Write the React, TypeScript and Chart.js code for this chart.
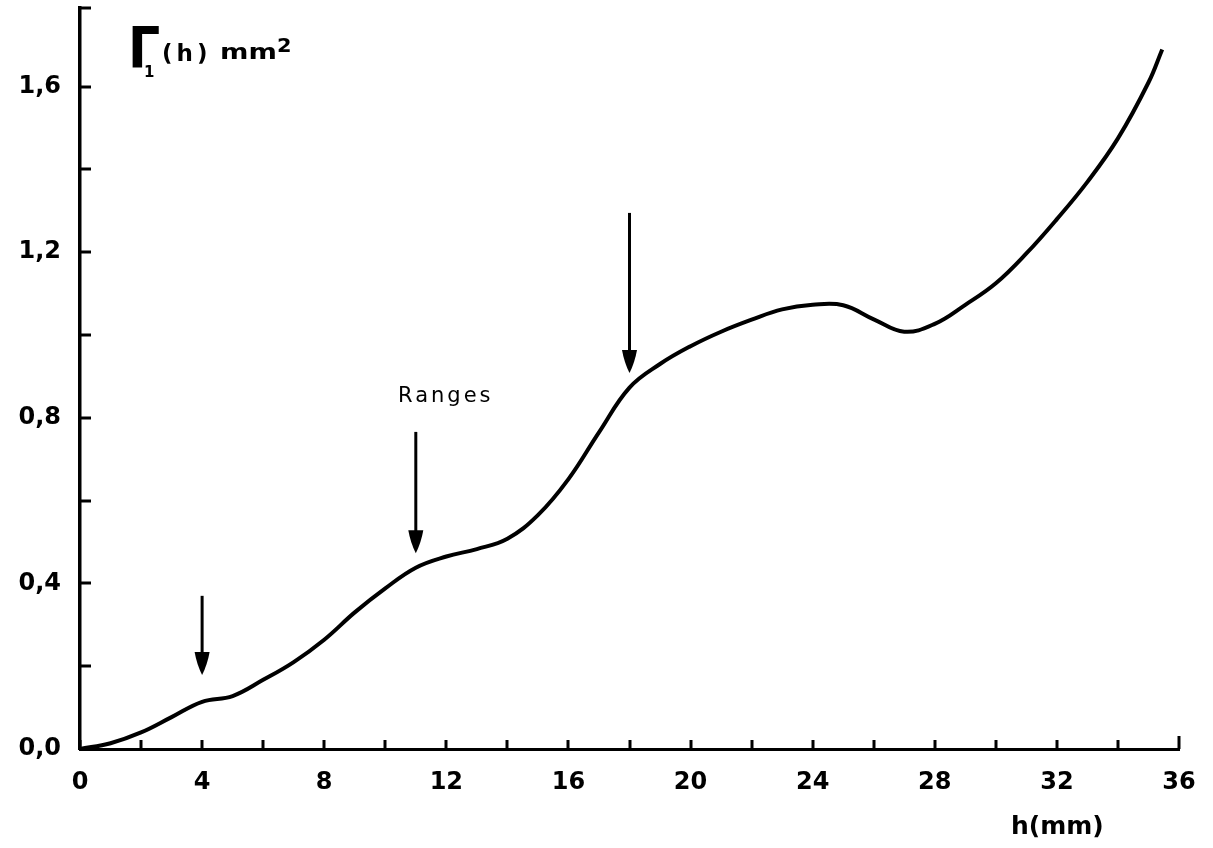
import React, { useEffect, useRef } from "react";
import { Chart, registerables } from "chart.js";

Chart.register(...registerables);

// h (mm) sample positions and Γ1(h) values (mm²)
const hValues = [0, 1, 2, 3, 4, 5, 6, 7, 8, 9, 10, 11, 12, 13, 14, 15, 16, 17, 18, 19, 20, 21, 22, 23, 24, 25, 26, 27, 28, 29, 30, 31, 32, 33, 34, 35, 35.45];
const gammaValues = [0.0, 0.014, 0.04, 0.077, 0.114, 0.128, 0.167, 0.21, 0.264, 0.33, 0.388, 0.438, 0.465, 0.483, 0.508, 0.565, 0.652, 0.765, 0.873, 0.93, 0.973, 1.008, 1.037, 1.062, 1.073, 1.072, 1.038, 1.008, 1.027, 1.073, 1.125, 1.197, 1.28, 1.37, 1.475, 1.61, 1.69];

const xMajorLabels = ["0", "4", "8", "12", "16", "20", "24", "28", "32", "36"];
const yMajorLabels = ["0,0", "0,4", "0,8", "1,2", "1,6"];

// annotation arrows: h position, tail value, tip value
const arrowH = [4, 11, 18];
const arrowTail = [0.37, 0.766, 1.295];
const arrowTip = [0.179, 0.473, 0.908];
const rangesText = "Ranges";
const xAxisTitle = "h(mm)";

const X_MIN = 0;
const X_MAX = 36;
const Y_MIN = 0;
const Y_MAX = 1.79;

function stretchText(ctx: CanvasRenderingContext2D, text: string, x: number, y: number, font: string, sx: number, spacing = 0) {
  ctx.save();
  ctx.translate(x, y);
  ctx.scale(sx, 1);
  ctx.font = font;
  (ctx as any).letterSpacing = spacing + "px";
  ctx.textAlign = "left";
  ctx.textBaseline = "alphabetic";
  ctx.fillText(text, 0, 0);
  ctx.restore();
}

const overlayPlugin = {
  id: "overlay",
  afterDraw(chart: any) {
    const ctx = chart.ctx as CanvasRenderingContext2D;
    const xs = chart.scales.x;
    const ys = chart.scales.y;
    const area = chart.chartArea;
    ctx.save();
    ctx.strokeStyle = "#000";
    ctx.fillStyle = "#000";
    ctx.lineCap = "butt";

    // y tick marks (inside, pointing right)
    ctx.lineWidth = 3;
    const yTickVals = ys.ticks.map((t: any) => t.value).concat([Y_MAX]);
    for (const v of yTickVals) {
      const y = Math.round(ys.getPixelForValue(v));
      ctx.beginPath();
      ctx.moveTo(area.left, y);
      ctx.lineTo(area.left + 11, y);
      ctx.stroke();
    }
    // x tick marks (inside, pointing up)
    for (const t of xs.ticks) {
      const x = Math.round(xs.getPixelForValue(t.value));
      const len = t.value === X_MAX ? 13 : 9;
      ctx.beginPath();
      ctx.moveTo(x, area.bottom);
      ctx.lineTo(x, area.bottom - len);
      ctx.stroke();
    }

    // arrows
    for (let i = 0; i < arrowH.length; i++) {
      const x = xs.getPixelForValue(arrowH[i]);
      const yTop = ys.getPixelForValue(arrowTail[i]);
      const yTip = ys.getPixelForValue(arrowTip[i]);
      const headLen = 23;
      const headHalf = 7.5;
      ctx.lineWidth = 3;
      ctx.beginPath();
      ctx.moveTo(x, yTop);
      ctx.lineTo(x, yTip - headLen + 2);
      ctx.stroke();
      ctx.beginPath();
      ctx.moveTo(x, yTip);
      ctx.quadraticCurveTo(x - headHalf * 0.7, yTip - headLen * 0.45, x - headHalf, yTip - headLen);
      ctx.lineTo(x + headHalf, yTip - headLen);
      ctx.quadraticCurveTo(x + headHalf * 0.7, yTip - headLen * 0.45, x, yTip);
      ctx.closePath();
      ctx.fill();
    }

    // "Ranges"
    stretchText(ctx, rangesText, 398, 402, "21px 'DejaVu Sans'", 1.0, 3);

    // y-axis title Γ1(h) mm²
    stretchText(ctx, "Γ", 128, 68, "bold 56px 'DejaVu Sans'", 0.9);
    stretchText(ctx, "1", 144, 77, "bold 15px 'DejaVu Sans'", 1.0);
    stretchText(ctx, "(h)", 162, 61, "bold 23px 'DejaVu Sans'", 1.0, 4);
    stretchText(ctx, "mm", 220, 59, "bold 21px 'DejaVu Sans'", 1.3, 0);
    stretchText(ctx, "2", 277, 52, "bold 19px 'DejaVu Sans'", 1.1);

    // x-axis title
    stretchText(ctx, xAxisTitle, 1011, 834, "bold 25px 'DejaVu Sans'", 1.0);

    ctx.restore();
  },
};

export default function App() {
  const canvasRef = useRef<HTMLCanvasElement | null>(null);

  useEffect(() => {
    const canvas = canvasRef.current;
    if (!canvas) return;
    const chart = new Chart(canvas, {
      type: "line",
      data: {
        datasets: [
          {
            data: hValues.map((h, i) => ({ x: h, y: gammaValues[i] })),
            borderColor: "#000",
            borderWidth: 4,
            pointRadius: 0,
            tension: 0.4,
            fill: false,
            clip: false as any,
          },
        ],
      },
      options: {
        responsive: false,
        animation: false,
        layout: { padding: { left: 0, top: 8, right: 34, bottom: 0 } },
        plugins: {
          legend: { display: false },
          tooltip: { enabled: false },
          title: { display: false },
        },
        scales: {
          x: {
            type: "linear",
            min: X_MIN,
            max: X_MAX,
            grid: { display: false, drawTicks: false },
            border: { display: true, color: "#000", width: 3 },
            ticks: {
              stepSize: 2,
              autoSkip: false,
              maxRotation: 0,
              padding: 19,
              color: "#000",
              font: { family: "'DejaVu Sans'", size: 24, weight: "bold" },
              callback: (v: any) => {
                const n = Math.round(Number(v));
                return n % 4 === 0 ? xMajorLabels[n / 4] : "";
              },
            },
            afterFit: (s: any) => {
              s.height = 99;
              s.paddingLeft = 0;
              s.paddingRight = 0;
              s.paddingTop = 0;
              s.paddingBottom = 0;
            },
          },
          y: {
            type: "linear",
            min: Y_MIN,
            max: Y_MAX,
            grid: { display: false, drawTicks: false },
            border: { display: true, color: "#000", width: 3.5 },
            ticks: {
              stepSize: 0.2,
              includeBounds: false,
              autoSkip: false,
              padding: 19,
              color: "#000",
              font: { family: "'DejaVu Sans'", size: 24, weight: "bold" },
              callback: (v: any) => {
                const k = Math.round(Number(v) * 10);
                return k % 4 === 0 ? yMajorLabels[k / 4] : "";
              },
            },
            afterFit: (s: any) => {
              s.width = 80;
              s.paddingLeft = 0;
              s.paddingRight = 0;
              s.paddingTop = 0;
              s.paddingBottom = 0;
            },
          },
        },
      },
      plugins: [overlayPlugin],
    });
    return () => chart.destroy();
  }, []);

  return (
    <div style={{ position: "absolute", left: 0, top: 0, width: 1213, height: 848, background: "#fff" }}>
      <canvas ref={canvasRef} width={1213} height={848} style={{ display: "block", width: 1213, height: 848 }} />
    </div>
  );
}
